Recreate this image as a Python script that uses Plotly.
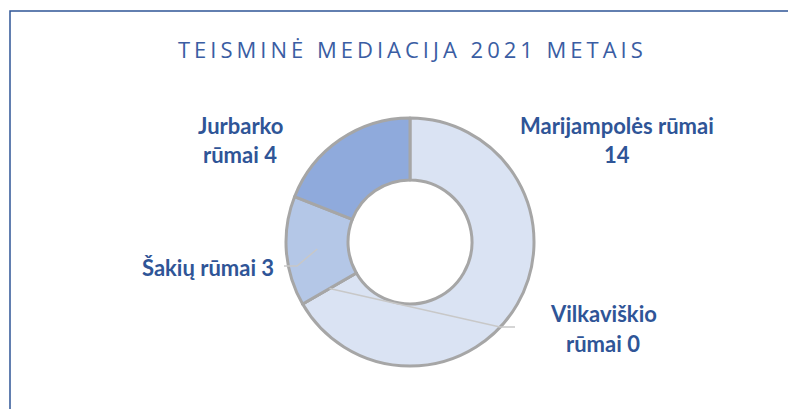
import math
import plotly.graph_objects as go

# ---- data ----
labels = ["Marijampolės rūmai", "Vilkaviškio rūmai", "Šakių rūmai", "Jurbarko rūmai"]
values = [14, 0, 3, 4]
colors = ["#DAE3F3", "#C9D6EE", "#B4C7E7", "#8FAADC"]
title_text = "TEISMINĖ MEDIACIJA 2021 METAIS"

W, H = 796, 409
OFF = 8  # page body margin
CX, CY, R = 410, 242, 124  # pie centre/radius in page pixels

def px(x):
    return (x - OFF) / W

def py(y):
    return 1 - (y - OFF) / H

fig = go.Figure(go.Pie(
    labels=labels, values=values, hole=0.5, sort=False, direction="clockwise",
    rotation=0, textinfo="none", hoverinfo="label+value",
    marker=dict(colors=colors, line=dict(color="#A6A6A6", width=3)),
    domain=dict(x=[px(CX - R), px(CX + R)], y=[py(CY + R), py(CY - R)]),
    showlegend=False,
))

# anchor points of leader lines: mid-angle of each slice at 0.75 R
total = sum(values)
anchors = []
acc = 0
for v in values:
    mid = (acc + v / 2) / total * 2 * math.pi
    acc += v
    anchors.append((CX + 0.75 * R * math.sin(mid), CY - 0.75 * R * math.cos(mid)))

lab_color = "#2F5597"
lab_font = dict(family="Lato", size=22, color=lab_color)

annotations = [
    dict(text=title_text, x=px(412), y=py(49), xref="paper", yref="paper",
         showarrow=False, font=dict(family="Open Sans", size=22, color="#3A5DA3"),
         xanchor="center", yanchor="middle"),
    # Marijampolės
    dict(text="<b>Marijampolės rūmai</b>", x=px(617), y=py(125)),
    dict(text="<b>14</b>", x=px(617), y=py(154)),
    # Vilkaviškio
    dict(text="<b>Vilkaviškio</b>", x=px(603), y=py(313)),
    dict(text="<b>rūmai 0</b>", x=px(603), y=py(343)),
    # Šakių
    dict(text="<b>Šakių rūmai 3</b>", x=px(208), y=py(267)),
    # Jurbarko
    dict(text="<b>Jurbarko</b>", x=px(240), y=py(125)),
    dict(text="<b>rūmai 4</b>", x=px(240), y=py(154)),
]
for a in annotations[1:]:
    a.update(xref="paper", yref="paper", showarrow=False, font=lab_font,
             xanchor="center", yanchor="middle")

line_style = dict(color="#C8C8C8", width=1.5)
sx, sy = anchors[2]
vx, vy = anchors[1]
shapes = [
    # frame
    dict(type="rect", xref="paper", yref="paper", x0=px(10), x1=1.02, y0=-0.05, y1=py(11),
         line=dict(color="#2F5597", width=1.5), fillcolor="rgba(0,0,0,0)", layer="below"),
    # leader Šakių
    dict(type="path", xref="paper", yref="paper", layer="above",
         path=f"M {px(sx)} {py(sy)} L {px(297)} {py(266)} L {px(284)} {py(266)}",
         line=line_style),
    # leader Vilkaviškio
    dict(type="path", xref="paper", yref="paper", layer="above",
         path=f"M {px(vx)} {py(vy)} L {px(500)} {py(327)} L {px(515)} {py(327)}",
         line=line_style),
]

fig.update_layout(
    width=W, height=H, margin=dict(l=0, r=0, t=0, b=0),
    paper_bgcolor="white", plot_bgcolor="white",
    annotations=annotations, shapes=shapes,
)

post = """
var t = document.querySelectorAll('.annotation-text')[0];
if (t) { t.style.letterSpacing = '4px'; }
"""
fig.write_html("out.html", post_script=post)
